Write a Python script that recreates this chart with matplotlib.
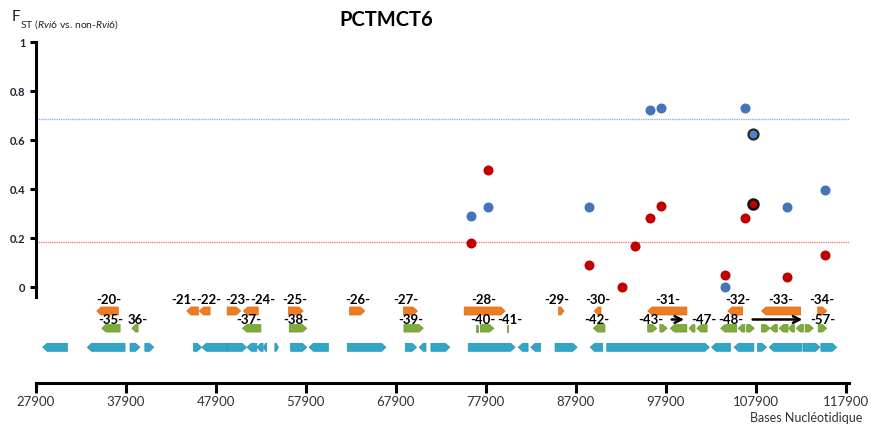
import matplotlib
matplotlib.use("Agg")
import matplotlib.pyplot as plt
from matplotlib.patches import Polygon

plt.rcParams['font.family'] = ['Lato', 'DejaVu Sans']
plt.rcParams['mathtext.fontset'] = 'custom'
plt.rcParams['mathtext.rm'] = 'Lato'
plt.rcParams['mathtext.it'] = 'Lato:italic'

# ---------------- data ----------------
title = "PCTMCT6"
x_ticks = [27900, 37900, 47900, 57900, 67900, 77900, 87900, 97900, 107900, 117900]
y_ticks = [0, 0.2, 0.4, 0.6, 0.8, 1]
y_tick_labels = ["0", "0.2", "0.4", "0.6", "0.8", "1"]

blue_x = [76250, 78100, 89350, 96150, 97400, 104450, 106750, 107650, 111400, 115600]
blue_y = [0.292, 0.329, 0.329, 0.722, 0.733, 0.0, 0.733, 0.626, 0.329, 0.397]
red_x = [76250, 78100, 89350, 93050, 94500, 96150, 97400, 104450, 106750, 107650, 111400, 115600]
red_y = [0.181, 0.478, 0.091, 0.0, 0.167, 0.284, 0.332, 0.050, 0.283, 0.340, 0.042, 0.132]
highlight_x = [107650]
highlight_blue_y = [0.626]
highlight_red_y = [0.340]
blue_threshold = 0.687
red_threshold = 0.186

# genes: start, end, strand (+1 right, -1 left, 0 no direction)
orange_start = [34650, 44650, 46050, 49150, 50950, 55950, 62750, 68750, 75500, 86000, 89950, 95900, 104800, 108550, 114800]
orange_end = [37050, 45950, 47250, 50650, 52600, 57600, 64450, 70300, 80050, 86600, 90700, 100250, 106450, 112900, 115800]
orange_strand = [-1, -1, -1, 1, -1, 1, 1, 1, 1, 1, -1, -1, -1, -1, 1]
orange_labels = ["-20-", "-21-", "-22-", "-23-", "-24-", "-25-", "-26-", "-27-", "-28-", "-29-",
                 "-30-", "-31-", "-32-", "-33-", "-34-"]
orange_label_x = [36000, 44350, 47050, 50300, 53100, 56700, 63700, 69050, 77700, 85800,
                  90300, 98100, 105950, 110700, 115300]

green_start = [35200, 38550, 50850, 56050, 68800, 76780, 77300, 80220, 89850, 95900, 97250, 98400,
               100500, 101350, 104000, 105950, 106900, 108550, 109500, 110500, 111550, 112400, 113400, 114850]
green_end = [37250, 39250, 52900, 58000, 70950, 77070, 78800, 80400, 91150, 96900, 98050, 100250,
             101150, 102500, 105800, 106700, 107750, 109500, 110300, 111500, 112200, 113200, 114300, 115800]
green_strand = [-1, -1, -1, 1, 1, 0, 1, 0, -1, 1, 1, -1, -1, -1, -1, -1, 1, 1, -1, -1, -1, -1, 1, 1]
green_labels = ["-35-", "36-", "-37-", "-38-", "-39-", "-40-", "-41-", "-42-", "-43-", "-47-", "-48-", "-57-"]
green_label_x = [36250, 39250, 51600, 56750, 69550, 77550, 80600, 90250, 96250, 102100, 105100, 115350]
range_arrow_start = [98250, 107250]
range_arrow_end = [100250, 113400]

blue_start = [28650, 33600, 38350, 40000, 45400, 46350, 49150, 51350, 52450, 53200, 54450, 56200,
              58250, 62500, 68950, 70500, 71800, 75950, 81500, 82900, 85600, 89500, 91350, 103000,
              105500, 108100, 109400, 113150, 115150]
blue_end = [31400, 37800, 39450, 41000, 46300, 49150, 51300, 52450, 53150, 53550, 54850, 58000,
            60400, 66800, 70200, 71250, 73900, 81150, 82600, 84000, 88050, 90900, 102750, 105100,
            107700, 109100, 113000, 115050, 116900]
blue_strand = [-1, -1, 1, 1, 1, -1, 1, -1, -1, -1, 1, 1, -1, 1, 1, -1, 1, 1, -1, -1, 1, -1, 1, -1,
               -1, 1, -1, 1, 1]

# ---------------- layout ----------------
W, H = 871, 429
fig = plt.figure(figsize=(W / 100, H / 100), dpi=100)
X0 = 27900
X1 = 118300
left = 36 / W
width = (0.008996 * (X1 - X0)) / W

ax = fig.add_axes([left, (H - 297) / H, width, (297 - 42.3) / H])
ax.set_xlim(X0, X1)
ax.set_ylim(-0.0396, 1.0)
for s in ['top', 'right', 'bottom']:
    ax.spines[s].set_visible(False)
ax.spines['left'].set_linewidth(2.2)
ax.spines['left'].set_color('black')
ax.set_xticks([])
ax.set_yticks(y_ticks)
ax.set_yticklabels(y_tick_labels, fontsize=8, fontweight='bold', color='#1c2533')
ax.tick_params(axis='y', length=4.5, width=2.2, pad=3)
ax.patch.set_alpha(0)

ax.axhline(blue_threshold, color='#8fb4e3', lw=1.0, ls=(0, (1, 0.6)))
ax.axhline(red_threshold, color='#ee8080', lw=1.0, ls=(0, (1, 0.6)))

ax.scatter(blue_x, blue_y, s=52, color='#4375b7', zorder=3, clip_on=False, linewidths=0)
ax.scatter(red_x, red_y, s=52, color='#c00000', zorder=3, clip_on=False, linewidths=0)
ax.scatter(highlight_x, highlight_blue_y, s=52, color='#4a86c9', edgecolors='#2a2a2a',
           linewidths=1.6, zorder=4, clip_on=False)
ax.scatter(highlight_x, highlight_red_y, s=52, color='#c00000', edgecolors='#111111',
           linewidths=1.8, zorder=4, clip_on=False)

# gene axes
gx = fig.add_axes([left, (H - 383) / H, width, (383 - 297) / H])
gx.set_xlim(X0, X1)
gx.set_ylim(0, 86)
gx.patch.set_alpha(0)
for s in ['top', 'right', 'left']:
    gx.spines[s].set_visible(False)
gx.spines['bottom'].set_linewidth(2.2)
gx.set_yticks([])
gx.set_xticks(x_ticks)
gx.set_xticklabels([str(t) for t in x_ticks], fontsize=9.5, color='#333333')
gx.tick_params(axis='x', length=7, width=2.2, pad=2.5)

HEAD = 480  # arrow head length in bp


def draw_gene(a, s, e, strand, yc, h, fc, ec):
    head = min(HEAD, (e - s) * 0.6)
    y0, y1 = yc - h / 2, yc + h / 2
    if strand > 0:
        pts = [(s, y0), (e - head, y0), (e, yc), (e - head, y1), (s, y1)]
    elif strand < 0:
        pts = [(s + head, y0), (e, y0), (e, y1), (s + head, y1), (s, yc)]
    else:
        pts = [(s, y0), (e, y0), (e, y1), (s, y1)]
    a.add_patch(Polygon(pts, closed=True, facecolor=fc, edgecolor=ec, lw=0.5, clip_on=False))


ORANGE_Y, GREEN_Y, BLUE_Y = 72, 54.7, 35.7
for s, e, d in zip(orange_start, orange_end, orange_strand):
    draw_gene(gx, s, e, d, ORANGE_Y, 8, '#ee7d22', '#d56a15')
for s, e, d in zip(green_start, green_end, green_strand):
    draw_gene(gx, s, e, d, GREEN_Y, 7.5, '#7fab3a', '#6c9530')
for s, e, d in zip(blue_start, blue_end, blue_strand):
    draw_gene(gx, s, e, d, BLUE_Y, 8, '#31a6c7', '#2790ae')

for lab, x in zip(orange_labels, orange_label_x):
    gx.text(x, 83, lab, ha='center', va='center', fontsize=9.5, fontweight='bold', clip_on=False)
for lab, x in zip(green_labels, green_label_x):
    gx.text(x, 63.5, lab, ha='center', va='center', fontsize=9.5, fontweight='bold', clip_on=False)
for s, e in zip(range_arrow_start, range_arrow_end):
    gx.annotate('', xy=(e, 63.5), xytext=(s, 63.5),
                arrowprops=dict(arrowstyle='->', lw=1.8, color='black', mutation_scale=12))

# texts
fig.text(386 / W, 1 - 20 / H, title, ha='center', va='center', fontsize=14.5, fontweight='bold')
fig.text(12 / W, 1 - 17 / H, "F", ha='left', va='center', fontsize=11, color='#222222')
fig.text(19.5 / W, 1 - 24.5 / H, r"ST ($\mathit{Rvi6}$ vs. non-$\mathit{Rvi6}$)", ha='left', va='center',
         fontsize=7.5, color='#222222')
fig.text(806 / W, 1 - 418 / H, "Bases Nucléotidique", ha='center', va='center', fontsize=9, color='#333333')

fig.savefig("out.png", dpi=100)
